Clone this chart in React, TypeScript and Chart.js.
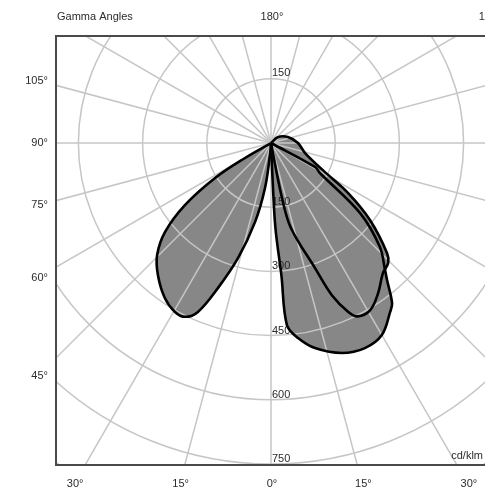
import { useEffect, useRef } from 'react';
import { Chart, registerables } from 'chart.js';

Chart.register(...registerables);

// Luminous intensity distribution (cd/klm).
// Gamma measured from the downward vertical (0°) to upward (180°).
const LOBE_LEFT_GAMMA = [0, 4.8, 7.6, 11.4, 16, 20.1, 23.4, 26.3, 29.6, 34.4, 40.6, 45.5, 50, 54.2, 58, 60, 61.5];
const LOBE_LEFT_CDKLM = [0, 28, 106, 188, 280, 361, 430, 453, 454, 439, 406, 373, 323, 248, 154, 70, 0];

const LOBE_RIGHT_WIDE_GAMMA = [0, 2.5, 3, 4.5, 5, 7.9, 12.1, 18.7, 24.6, 30, 35.2, 37.1, 40.3, 41.9, 46.3, 51.8, 58.5, 61.4, 64];
const LOBE_RIGHT_WIDE_CDKLM = [0, 90, 200, 310, 427, 460, 490, 518, 527, 518, 483, 469, 419, 399, 352, 265, 134, 117, 0];

const LOBE_RIGHT_NARROW_GAMMA = [10.5, 11.3, 13.2, 19.4, 21.8, 24.6, 26.6, 30.7, 35.5, 40.7, 44.3, 46.5, 52.1, 57, 62, 73.6, 90, 109.4, 130.6, 155];
const LOBE_RIGHT_NARROW_CDKLM = [0, 128, 204, 310, 383, 434, 453, 454, 431, 401, 392, 374, 293, 215, 140, 83, 63, 42, 21, 0];

const RADIAL_TICKS = [150, 300, 450, 600, 750];
const GRID_CIRCLES = [150, 300, 450, 600, 750, 900];
const SPOKE_STEP = 15;
const LEFT_LABEL_ANGLES = [105, 90, 75, 60, 45];
const BOTTOM_LABEL_ANGLES = [-30, -15, 0, 15, 30];
const TOP_LABEL_ANGLES = [180, 120];
const TITLE = 'Gamma Angles';
const UNIT = 'cd/klm';

const FONT = '11px "Liberation Sans", Arial, sans-serif';
const TEXT = '#2b2b2b';

function toXY(gammas: number[], values: number[], side: number) {
  return gammas.map((g, i) => {
    const t = (g * Math.PI) / 180;
    return { x: side * values[i] * Math.sin(t), y: -values[i] * Math.cos(t) };
  });
}

const polarPlugin = {
  id: 'polarGrid',
  beforeDatasetsDraw(chart: any) {
    const { ctx, chartArea: a, scales } = chart;
    const xs = scales.x, ys = scales.y;
    const cx = xs.getPixelForValue(0), cy = ys.getPixelForValue(0);
    ctx.save();
    ctx.beginPath();
    ctx.rect(a.left, a.top, a.right - a.left, a.bottom - a.top);
    ctx.clip();
    ctx.strokeStyle = '#c6c6c6';
    ctx.lineWidth = 1.5;
    for (const r of GRID_CIRCLES) {
      const rp = xs.getPixelForValue(r) - cx;
      ctx.beginPath();
      ctx.arc(cx, cy, rp, 0, Math.PI * 2);
      ctx.stroke();
    }
    const R = xs.getPixelForValue(1500) - cx;
    for (let g = 0; g < 360; g += SPOKE_STEP) {
      const t = (g * Math.PI) / 180;
      ctx.beginPath();
      ctx.moveTo(cx, cy);
      ctx.lineTo(cx + R * Math.sin(t), cy + R * Math.cos(t));
      ctx.stroke();
    }
    // radial tick labels
    ctx.font = FONT;
    ctx.fillStyle = TEXT;
    ctx.textAlign = 'left';
    ctx.textBaseline = 'alphabetic';
    for (const v of RADIAL_TICKS) {
      const py = ys.getPixelForValue(-v);
      ctx.fillText(String(v), cx + 1, py - 2);
    }
    const upper = ys.getPixelForValue(RADIAL_TICKS[0]);
    ctx.fillText(String(RADIAL_TICKS[0]), cx + 1, upper - 3);
    ctx.restore();
  },
  afterDatasetsDraw(chart: any) {
    const { ctx, chartArea: a, scales } = chart;
    const xs = scales.x, ys = scales.y;
    const cx = xs.getPixelForValue(0), cy = ys.getPixelForValue(0);
    ctx.save();
    ctx.strokeStyle = '#4a4a4a';
    ctx.lineWidth = 2;
    ctx.beginPath();
    ctx.moveTo(a.right + 2, a.top);
    ctx.lineTo(a.left, a.top);
    ctx.lineTo(a.left, a.bottom);
    ctx.lineTo(a.right + 2, a.bottom);
    ctx.stroke();

    ctx.font = FONT;
    ctx.fillStyle = TEXT;
    ctx.textBaseline = 'middle';
    ctx.fillText(UNIT, 0, -100);
    ctx.textAlign = 'right';
    ctx.textBaseline = 'alphabetic';
    ctx.fillText(UNIT, a.right - 2, a.bottom - 6);

    ctx.textBaseline = 'middle';
    ctx.textAlign = 'left';
    ctx.fillText(TITLE, a.left + 1, a.top - 19);

    const leftX = a.left - 18;
    const bottomY = a.bottom + 19;
    const topY = a.top - 19;
    ctx.textAlign = 'center';
    for (const g of LEFT_LABEL_ANGLES) {
      const t = (g * Math.PI) / 180;
      const d = (cx - leftX) / Math.sin(t);
      const py = cy + d * Math.cos(t);
      ctx.textAlign = 'right';
      ctx.fillText(`${g}°`, a.left - 8, py);
    }
    ctx.textAlign = 'center';
    for (const g of BOTTOM_LABEL_ANGLES) {
      const t = (Math.abs(g) * Math.PI) / 180;
      const d = (bottomY - cy) / Math.cos(t);
      const px = cx + Math.sign(g) * d * Math.sin(t);
      ctx.fillText(`${Math.abs(g)}°`, px + 1, bottomY);
    }
    for (const g of TOP_LABEL_ANGLES) {
      const t = (g * Math.PI) / 180;
      const d = (topY - cy) / Math.cos(t);
      const px = cx + d * Math.sin(t);
      ctx.fillText(`${g}°`, px + 1, topY);
    }
    ctx.restore();
  },
};

export default function App() {
  const ref = useRef<HTMLCanvasElement | null>(null);
  useEffect(() => {
    if (!ref.current) return;
    const mk = (data: { x: number; y: number }[]) => ({
      data,
      showLine: true,
      fill: 'shape',
      backgroundColor: '#878787',
      borderColor: '#000000',
      borderWidth: 2.6,
      pointRadius: 0,
      tension: 0.35,
    });
    const chart = new Chart(ref.current, {
      type: 'scatter',
      data: {
        datasets: [
          mk(toXY(LOBE_LEFT_GAMMA, LOBE_LEFT_CDKLM, -1)),
          mk(toXY(LOBE_RIGHT_WIDE_GAMMA, LOBE_RIGHT_WIDE_CDKLM, 1)),
          mk(toXY(LOBE_RIGHT_NARROW_GAMMA, LOBE_RIGHT_NARROW_CDKLM, 1)),
        ] as any,
      },
      options: {
        animation: false,
        responsive: false,
        devicePixelRatio: 1,
        layout: { padding: { left: 56, top: 36, right: 0, bottom: 23 } },
        scales: {
          x: { type: 'linear', display: false, min: -502.3, max: 500 },
          y: { type: 'linear', display: false, min: -752.3, max: 250 },
        },
        plugins: {
          legend: { display: false },
          tooltip: { enabled: false },
          filler: { drawTime: 'beforeDatasetsDraw' },
        } as any,
      },
      plugins: [polarPlugin],
    });
    return () => chart.destroy();
  }, []);
  return (
    <div style={{ position: 'absolute', left: 0, top: 0, width: 485, height: 488, background: '#fff' }}>
      <canvas ref={ref} width={485} height={488} style={{ display: 'block' }} />
    </div>
  );
}
